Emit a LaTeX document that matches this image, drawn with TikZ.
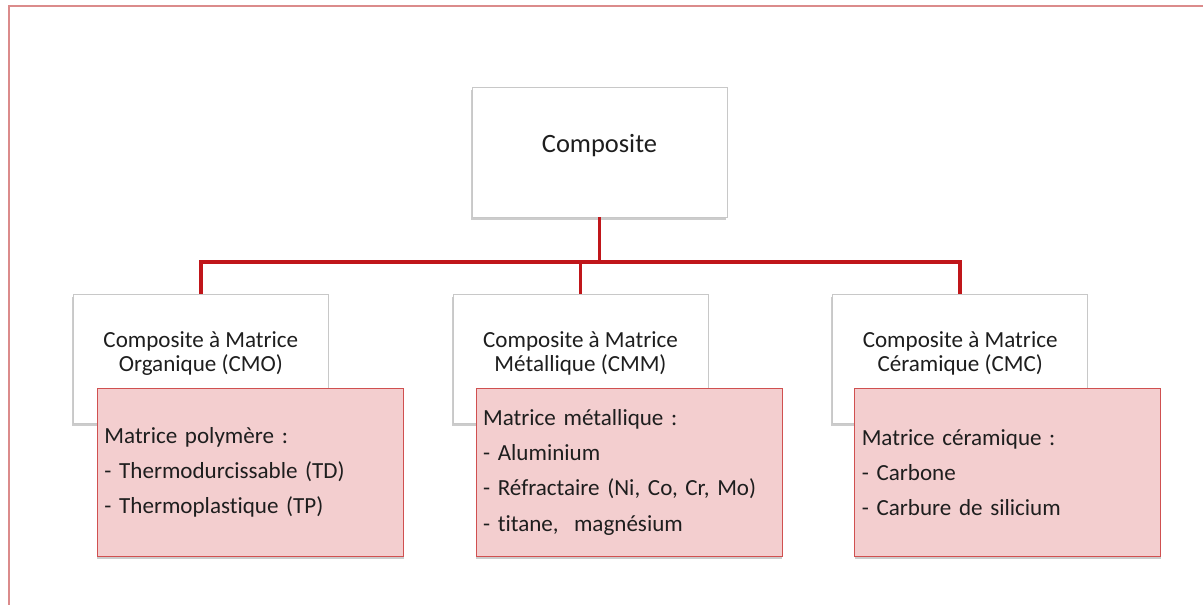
\documentclass[tikz,border=0pt]{standalone}
\usepackage{fontspec}
\setmainfont{Carlito}[Ligatures=NoCommon]
\usetikzlibrary{positioning,shadows}
\definecolor{linkred}{RGB}{192,22,26}
\definecolor{detailfill}{RGB}{243,206,207}
\definecolor{detailline}{RGB}{208,80,80}
\definecolor{framepink}{RGB}{219,139,139}
\definecolor{boxline}{RGB}{200,200,200}
\definecolor{inktext}{RGB}{30,30,30}
\newcommand{\twolines}[2]{\raisebox{3pt}[\height][\depth]{\begin{tabular}{@{}c@{}}#1\\#2\end{tabular}}}
\tikzset{
    topbox/.style={rectangle,draw=boxline,fill=white,text=inktext,minimum width=6.375cm,minimum height=3.25cm,
        font=\fontsize{18.8}{22}\selectfont,drop shadow={shadow xshift=-1pt,shadow yshift=-1.8pt,opacity=.4}},
    category/.style={rectangle,draw=boxline,fill=white,text=inktext,minimum width=6.375cm,minimum height=3.225cm,
        font=\fontsize{16.4}{17}\selectfont,drop shadow={shadow xshift=-1pt,shadow yshift=-1.8pt,opacity=.4}},
    detailbox/.style={rectangle,draw=detailline,semithick,fill=detailfill,text=inktext,minimum height=4.2cm,
        text width=7.3cm,inner xsep=0.175cm,align=left,font=\fontsize{16.4}{25}\selectfont,
        drop shadow={shadow xshift=0pt,shadow yshift=-1.8pt,opacity=.4}},
    link/.style={draw=linkred,line width=2.8pt},
    frame/.style={draw=framepink,line width=1.4pt}
}

\begin{document}
\begin{tikzpicture}[x=0.025cm,y=-0.025cm]

    \useasboundingbox (0,0) rectangle (1203,605);
    \draw[frame] (1203,6) -- (9,6) -- (9,605);

    \node[topbox] (root) at (599.5,152) {\raisebox{0pt}[0pt][0pt]{Composite}};

    \node[category] (cmm) [below=1.925cm of root,xshift=-0.475cm] {\twolines{Composite à Matrice}{Métallique (CMM)}};
    \node[category] (cmo) [left=3.1cm of cmm]  {\twolines{Composite à Matrice}{Organique (CMO)}};
    \node[category] (cmc) [right=3.1cm of cmm] {\twolines{Composite à Matrice}{Céramique (CMC)}};

    \coordinate[below=1.125cm of root] (bus);
    \draw[link] (root) -- (bus);
    \draw[link] (bus) -| (cmo);
    \draw[link] (bus) -| (cmm);
    \draw[link] (bus) -| (cmc);

    \node[detailbox] (cmo detail) [below right=-0.9cm and 0.6cm of cmo.south west]
        {Matrice polymère :\\- Thermodurcissable (TD)\\- Thermoplastique (TP)};
    \node[detailbox] (cmm detail) [below right=-0.9cm and 0.575cm of cmm.south west]
        {Matrice métallique :\\- Aluminium\\- Réfractaire (Ni, Co, Cr, Mo)\\- titane,~ magnésium};
    \node[detailbox] (cmc detail) [below right=-0.9cm and 0.55cm of cmc.south west]
        {Matrice céramique :\\- Carbone\\- Carbure de silicium};

\end{tikzpicture}
\end{document}
